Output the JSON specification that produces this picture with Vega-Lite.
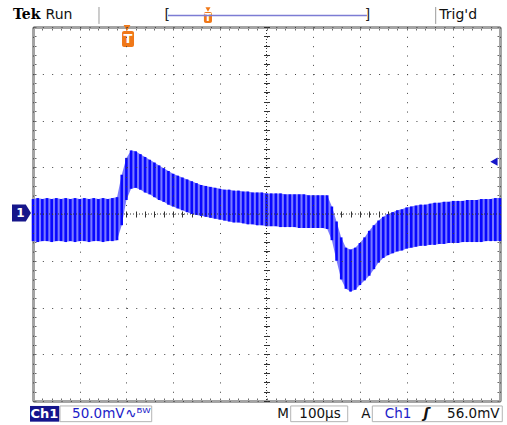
{
  "$schema": "https://vega.github.io/schema/vega-lite/v6.json",
  "width": 467,
  "height": 374,
  "padding": {"left": 33, "top": 27, "right": 7, "bottom": 24},
  "autosize": {"type": "none"},
  "background": "white",
  "config": {
    "view": {"stroke": null},
    "axis": {"labels": false, "title": null, "domain": false, "ticks": false, "grid": false, "offset": 0}
  },
  "datasets": {
    "wave": [
      {"t":0,"hi":16,"lo":-29},{"t":10,"hi":17,"lo":-30},{"t":20,"hi":16,"lo":-29},{"t":30,"hi":17,"lo":-29},
      {"t":40,"hi":16,"lo":-30},{"t":50,"hi":17,"lo":-29},{"t":60,"hi":16,"lo":-29},{"t":70,"hi":17,"lo":-30},
      {"t":80,"hi":16,"lo":-29},{"t":90,"hi":17,"lo":-30},{"t":100,"hi":16,"lo":-29},{"t":110,"hi":17,"lo":-29},
      {"t":120,"hi":16,"lo":-30},{"t":130,"hi":17,"lo":-29},{"t":140,"hi":16,"lo":-29},{"t":150,"hi":17,"lo":-30},
      {"t":160,"hi":16,"lo":-29},{"t":170,"hi":17,"lo":-29},{"t":180,"hi":18,"lo":-28},{"t":190,"hi":42,"lo":-12},
      {"t":200,"hi":60,"lo":15},{"t":210,"hi":68,"lo":27},{"t":220,"hi":67,"lo":28},{"t":230,"hi":64,"lo":26},
      {"t":240,"hi":61,"lo":23},{"t":250,"hi":58,"lo":21},{"t":260,"hi":55,"lo":18},{"t":270,"hi":52,"lo":15},
      {"t":280,"hi":49,"lo":13},{"t":290,"hi":46,"lo":10},{"t":300,"hi":43,"lo":8},{"t":310,"hi":41,"lo":6},
      {"t":320,"hi":39,"lo":4},{"t":330,"hi":37,"lo":2},{"t":340,"hi":35,"lo":0},{"t":350,"hi":33,"lo":-1},
      {"t":360,"hi":31,"lo":-2},{"t":370,"hi":30,"lo":-3},{"t":380,"hi":29,"lo":-4},{"t":390,"hi":28,"lo":-5},
      {"t":400,"hi":27,"lo":-6},{"t":410,"hi":26,"lo":-7},{"t":420,"hi":26,"lo":-8},{"t":430,"hi":25,"lo":-9},
      {"t":440,"hi":25,"lo":-9},{"t":450,"hi":24,"lo":-10},{"t":460,"hi":24,"lo":-11},{"t":470,"hi":23,"lo":-11},
      {"t":480,"hi":23,"lo":-12},{"t":490,"hi":23,"lo":-12},{"t":500,"hi":22,"lo":-13},{"t":510,"hi":22,"lo":-13},
      {"t":520,"hi":22,"lo":-13},{"t":530,"hi":22,"lo":-14},{"t":540,"hi":21,"lo":-14},{"t":550,"hi":21,"lo":-14},
      {"t":560,"hi":21,"lo":-14},{"t":570,"hi":21,"lo":-15},{"t":580,"hi":21,"lo":-15},{"t":590,"hi":20,"lo":-15},
      {"t":600,"hi":20,"lo":-15},{"t":610,"hi":20,"lo":-15},{"t":620,"hi":20,"lo":-15},{"t":630,"hi":20,"lo":-16},
      {"t":640,"hi":8,"lo":-28},{"t":650,"hi":-8,"lo":-50},{"t":660,"hi":-25,"lo":-70},{"t":670,"hi":-36,"lo":-80},
      {"t":680,"hi":-38,"lo":-83},{"t":690,"hi":-36,"lo":-81},{"t":700,"hi":-31,"lo":-76},{"t":710,"hi":-25,"lo":-71},
      {"t":720,"hi":-18,"lo":-66},{"t":730,"hi":-12,"lo":-59},{"t":740,"hi":-7,"lo":-52},{"t":750,"hi":-3,"lo":-47},
      {"t":760,"hi":0,"lo":-44},{"t":770,"hi":2,"lo":-42},{"t":780,"hi":4,"lo":-40},{"t":790,"hi":5,"lo":-39},
      {"t":800,"hi":7,"lo":-37},{"t":810,"hi":8,"lo":-36},{"t":820,"hi":9,"lo":-35},{"t":830,"hi":10,"lo":-34},
      {"t":840,"hi":10,"lo":-34},{"t":850,"hi":11,"lo":-33},{"t":860,"hi":12,"lo":-33},{"t":870,"hi":12,"lo":-32},
      {"t":880,"hi":13,"lo":-32},{"t":890,"hi":13,"lo":-31},{"t":900,"hi":14,"lo":-31},{"t":910,"hi":14,"lo":-31},
      {"t":920,"hi":14,"lo":-30},{"t":930,"hi":15,"lo":-30},{"t":940,"hi":15,"lo":-30},{"t":950,"hi":15,"lo":-30},
      {"t":960,"hi":16,"lo":-30},{"t":970,"hi":16,"lo":-29},{"t":980,"hi":16,"lo":-29},{"t":990,"hi":17,"lo":-29},
      {"t":1000,"hi":17,"lo":-29}
    ]
  },
  "resolve": {"axis": {"x": "independent", "y": "independent"}},
  "layer": [
    {
      "data": {"name": "wave"},
      "mark": {"type": "area", "color": "#7a7aff", "opacity": 1},
      "encoding": {
        "x": {"field": "t", "type": "quantitative", "scale": {"domain": [0, 1000], "nice": false, "zero": false},
              "axis": {"grid": true, "gridColor": "#404040", "gridDash": [1, 8.34], "gridWidth": 1, "tickCount": 10, "zindex": 1}},
        "y": {"field": "lo", "type": "quantitative", "scale": {"domain": [-200, 200], "nice": false, "zero": false},
              "axis": {"grid": true, "gridColor": "#404040", "gridDash": [1, 8.34], "gridWidth": 1, "tickCount": 8, "zindex": 1}},
        "y2": {"field": "hi"}
      }
    },
    {
      "data": {"name": "wave"},
      "mark": {"type": "rule", "color": "#0808ff", "strokeWidth": 2.6},
      "encoding": {
        "x": {"field": "t", "type": "quantitative", "scale": {"domain": [0, 1000], "nice": false, "zero": false},
              "axis": {"orient": "bottom", "domain": true, "domainColor": "#a4a4a4", "domainWidth": 3, "ticks": true, "tickColor": "#6a6a6a", "tickSize": -3, "tickWidth": 1, "tickCount": 50}},
        "y": {"field": "lo", "type": "quantitative", "scale": {"domain": [-200, 200], "nice": false, "zero": false},
              "axis": {"orient": "left", "domain": true, "domainColor": "#a4a4a4", "domainWidth": 3, "ticks": true, "tickColor": "#6a6a6a", "tickSize": -3, "tickWidth": 1, "tickCount": 40}},
        "y2": {"field": "hi"}
      }
    },
    {
      "data": {"values": [{"v": 0}]},
      "mark": {"type": "rule", "color": "#303030", "strokeWidth": 1, "strokeDash": [1, 2]},
      "encoding": {
        "y": {"field": "v", "type": "quantitative", "scale": {"domain": [-200, 200], "nice": false, "zero": false}, "axis": null}
      }
    },
    {
      "data": {"values": [{"t": 500}]},
      "mark": {"type": "rule", "color": "#303030", "strokeWidth": 1, "strokeDash": [1, 2]},
      "encoding": {
        "x": {"field": "t", "type": "quantitative", "scale": {"domain": [0, 1000], "nice": false, "zero": false}, "axis": null}
      }
    },
    {
      "data": {"values": [{"t": -24.6, "v": 1}]},
      "mark": {"type": "point", "shape": "M-1,-0.9L0.45,-0.9L1,0L0.45,0.9L-1,0.9Z", "filled": true, "size": 361, "color": "#16168a", "opacity": 1},
      "encoding": {
        "x": {"field": "t", "type": "quantitative", "scale": {"domain": [0, 1000], "nice": false, "zero": false}, "axis": null},
        "y": {"field": "v", "type": "quantitative", "scale": {"domain": [-200, 200], "nice": false, "zero": false}, "axis": null}
      }
    },
    {
      "data": {"values": [{"t": -27, "v": 1, "label": "1"}]},
      "mark": {"type": "text", "color": "white", "font": "DejaVu Sans", "fontSize": 12, "fontWeight": "bold", "align": "center", "baseline": "middle"},
      "encoding": {
        "x": {"field": "t", "type": "quantitative", "scale": {"domain": [0, 1000], "nice": false, "zero": false}, "axis": null},
        "y": {"field": "v", "type": "quantitative", "scale": {"domain": [-200, 200], "nice": false, "zero": false}, "axis": null},
        "text": {"field": "label"}
      }
    },
    {
      "data": {"values": [{"t": 987, "v": 56}]},
      "mark": {"type": "point", "shape": "triangle-left", "filled": true, "size": 70, "color": "#1414c8", "opacity": 1},
      "encoding": {
        "x": {"field": "t", "type": "quantitative", "scale": {"domain": [0, 1000], "nice": false, "zero": false}, "axis": null},
        "y": {"field": "v", "type": "quantitative", "scale": {"domain": [-200, 200], "nice": false, "zero": false}, "axis": null}
      }
    },
    {
      "data": {"values": [{"t": 201.3, "v": 198.9}]},
      "mark": {"type": "point", "shape": "triangle-down", "filled": true, "size": 45, "color": "#f07818", "opacity": 1},
      "encoding": {
        "x": {"field": "t", "type": "quantitative", "scale": {"domain": [0, 1000], "nice": false, "zero": false}, "axis": null},
        "y": {"field": "v", "type": "quantitative", "scale": {"domain": [-200, 200], "nice": false, "zero": false}, "axis": null}
      }
    },
    {
      "data": {"values": [{"t": 374.7, "v": 218.7}]},
      "mark": {"type": "point", "shape": "triangle-down", "filled": true, "size": 25, "color": "#f07818", "opacity": 1},
      "encoding": {
        "x": {"field": "t", "type": "quantitative", "scale": {"domain": [0, 1000], "nice": false, "zero": false}, "axis": null},
        "y": {"field": "v", "type": "quantitative", "scale": {"domain": [-200, 200], "nice": false, "zero": false}, "axis": null}
      }
    },
    {
      "data": {"values": [{"t": 190.6, "t2": 216.3, "v": 178.6, "v2": 195.7}, {"t": 366, "t2": 383.3, "v": 204.3, "v2": 216}]},
      "mark": {"type": "rect", "color": "#f07818", "cornerRadius": 2},
      "encoding": {
        "x": {"field": "t", "type": "quantitative", "scale": {"domain": [0, 1000], "nice": false, "zero": false}, "axis": null},
        "x2": {"field": "t2"},
        "y": {"field": "v", "type": "quantitative", "scale": {"domain": [-200, 200], "nice": false, "zero": false}, "axis": null},
        "y2": {"field": "v2"}
      }
    },
    {
      "data": {"values": [{"t": 203.4, "v": 187.2, "label": "T"}]},
      "mark": {"type": "text", "color": "white", "font": "DejaVu Sans", "fontSize": 13, "fontWeight": "bold", "align": "center", "baseline": "middle"},
      "encoding": {
        "x": {"field": "t", "type": "quantitative", "scale": {"domain": [0, 1000], "nice": false, "zero": false}, "axis": null},
        "y": {"field": "v", "type": "quantitative", "scale": {"domain": [-200, 200], "nice": false, "zero": false}, "axis": null},
        "text": {"field": "label"}
      }
    },
    {
      "data": {"values": [{"t": 374.7, "v": 210, "label": "T"}]},
      "mark": {"type": "text", "color": "white", "font": "DejaVu Sans", "fontSize": 10, "fontWeight": "bold", "align": "center", "baseline": "middle"},
      "encoding": {
        "x": {"field": "t", "type": "quantitative", "scale": {"domain": [0, 1000], "nice": false, "zero": false}, "axis": null},
        "y": {"field": "v", "type": "quantitative", "scale": {"domain": [-200, 200], "nice": false, "zero": false}, "axis": null},
        "text": {"field": "label"}
      }
    },
    {
      "data": {"values": [{"t": 27, "v": 212.9, "label": "Run"}, {"t": 870, "v": 212.9, "label": "Trig'd"}]},
      "mark": {"type": "text", "color": "#111111", "font": "DejaVu Sans", "fontSize": 14, "align": "left", "baseline": "middle"},
      "encoding": {
        "x": {"field": "t", "type": "quantitative", "scale": {"domain": [0, 1000], "nice": false, "zero": false}, "axis": null},
        "y": {"field": "v", "type": "quantitative", "scale": {"domain": [-200, 200], "nice": false, "zero": false}, "axis": null},
        "text": {"field": "label"}
      }
    },
    {
      "data": {"values": [{"t": -42.8, "v": 212.9, "label": "Tek"}]},
      "mark": {"type": "text", "color": "#000000", "font": "DejaVu Serif", "fontSize": 14, "fontWeight": "bold", "align": "left", "baseline": "middle"},
      "encoding": {
        "x": {"field": "t", "type": "quantitative", "scale": {"domain": [0, 1000], "nice": false, "zero": false}, "axis": null},
        "y": {"field": "v", "type": "quantitative", "scale": {"domain": [-200, 200], "nice": false, "zero": false}, "axis": null},
        "text": {"field": "label"}
      }
    },
    {
      "data": {"values": [{"t": 141.3, "v": 221.4, "v2": 203.3}, {"t": 862.3, "v": 221.4, "v2": 203.3}]},
      "mark": {"type": "rule", "color": "#9a9a9a", "strokeWidth": 1},
      "encoding": {
        "x": {"field": "t", "type": "quantitative", "scale": {"domain": [0, 1000], "nice": false, "zero": false}, "axis": null},
        "y": {"field": "v", "type": "quantitative", "scale": {"domain": [-200, 200], "nice": false, "zero": false}, "axis": null},
        "y2": {"field": "v2"}
      }
    },
    {
      "data": {"values": [{"t": 289, "t2": 715, "v": 212.3}]},
      "mark": {"type": "rule", "color": "#7c7cd4", "strokeWidth": 1.5},
      "encoding": {
        "x": {"field": "t", "type": "quantitative", "scale": {"domain": [0, 1000], "nice": false, "zero": false}, "axis": null},
        "x2": {"field": "t2"},
        "y": {"field": "v", "type": "quantitative", "scale": {"domain": [-200, 200], "nice": false, "zero": false}, "axis": null}
      }
    },
    {
      "data": {"values": [{"t": 287.5, "v": 212.6, "label": "["}, {"t": 716.5, "v": 212.6, "label": "]"}]},
      "mark": {"type": "text", "color": "#222222", "font": "DejaVu Sans", "fontSize": 14, "align": "center", "baseline": "middle"},
      "encoding": {
        "x": {"field": "t", "type": "quantitative", "scale": {"domain": [0, 1000], "nice": false, "zero": false}, "axis": null},
        "y": {"field": "v", "type": "quantitative", "scale": {"domain": [-200, 200], "nice": false, "zero": false}, "axis": null},
        "text": {"field": "label"}
      }
    },
    {
      "data": {"values": [{"t": -6.4, "t2": 56.3, "v": -205.3, "v2": -222.1}]},
      "mark": {"type": "rect", "color": "#14148c"},
      "encoding": {
        "x": {"field": "t", "type": "quantitative", "scale": {"domain": [0, 1000], "nice": false, "zero": false}, "axis": null},
        "x2": {"field": "t2"},
        "y": {"field": "v", "type": "quantitative", "scale": {"domain": [-200, 200], "nice": false, "zero": false}, "axis": null},
        "y2": {"field": "v2"}
      }
    },
    {
      "data": {"values": [
        {"t": 57.8, "t2": 254.2, "v": -205.3, "v2": -222.1},
        {"t": 551.8, "t2": 673.9, "v": -205.3, "v2": -222.1},
        {"t": 726.6, "t2": 1004.9, "v": -205.3, "v2": -222.1}
      ]},
      "mark": {"type": "rect", "fill": "white", "stroke": "#b4b4b4", "strokeWidth": 1},
      "encoding": {
        "x": {"field": "t", "type": "quantitative", "scale": {"domain": [0, 1000], "nice": false, "zero": false},
              "axis": {"orient": "top", "domain": true, "domainColor": "#a4a4a4", "domainWidth": 3, "ticks": true, "tickColor": "#6a6a6a", "tickSize": -3, "tickWidth": 1, "tickCount": 50}},
        "x2": {"field": "t2"},
        "y": {"field": "v", "type": "quantitative", "scale": {"domain": [-200, 200], "nice": false, "zero": false},
              "axis": {"orient": "right", "domain": true, "domainColor": "#a4a4a4", "domainWidth": 3, "ticks": true, "tickColor": "#6a6a6a", "tickSize": -3, "tickWidth": 1, "tickCount": 40}},
        "y2": {"field": "v2"}
      }
    },
    {
      "data": {"values": [{"t": 24.6, "v": -213.9, "label": "Ch1"}]},
      "mark": {"type": "text", "color": "white", "font": "DejaVu Sans", "fontSize": 13, "fontWeight": "bold", "align": "center", "baseline": "middle"},
      "encoding": {
        "x": {"field": "t", "type": "quantitative", "scale": {"domain": [0, 1000], "nice": false, "zero": false}, "axis": null},
        "y": {"field": "v", "type": "quantitative", "scale": {"domain": [-200, 200], "nice": false, "zero": false}, "axis": null},
        "text": {"field": "label"}
      }
    },
    {
      "data": {"values": [
        {"t": 139.8, "v": -213.9, "label": "50.0mV"},
        {"t": 224.8, "v": -213.9, "label": "∿ᴮᵂ"},
        {"t": 781.6, "v": -213.9, "label": "Ch1"}
      ]},
      "mark": {"type": "text", "color": "#1c1cc8", "font": "DejaVu Sans", "fontSize": 13.5, "align": "center", "baseline": "middle"},
      "encoding": {
        "x": {"field": "t", "type": "quantitative", "scale": {"domain": [0, 1000], "nice": false, "zero": false}, "axis": null},
        "y": {"field": "v", "type": "quantitative", "scale": {"domain": [-200, 200], "nice": false, "zero": false}, "axis": null},
        "text": {"field": "label"}
      }
    },
    {
      "data": {"values": [
        {"t": 535.3, "v": -213.9, "label": "M"},
        {"t": 614.6, "v": -213.9, "label": "100µs"},
        {"t": 713, "v": -213.9, "label": "A"},
        {"t": 942.9, "v": -213.9, "label": "56.0mV"}
      ]},
      "mark": {"type": "text", "color": "#111111", "font": "DejaVu Sans", "fontSize": 13.5, "align": "center", "baseline": "middle"},
      "encoding": {
        "x": {"field": "t", "type": "quantitative", "scale": {"domain": [0, 1000], "nice": false, "zero": false},
              "axis": {"orient": "bottom", "offset": -190, "ticks": true, "tickSize": 6, "tickColor": "#303030", "tickWidth": 1, "tickCount": 50}},
        "y": {"field": "v", "type": "quantitative", "scale": {"domain": [-200, 200], "nice": false, "zero": false},
              "axis": {"orient": "left", "offset": -236.5, "ticks": true, "tickSize": 6, "tickColor": "#303030", "tickWidth": 1, "tickCount": 40}},
        "text": {"field": "label"}
      }
    },
    {
      "data": {"values": [{"t": 842.2, "v": -213.9, "label": "ʃ"}]},
      "mark": {"type": "text", "color": "#111111", "font": "DejaVu Sans", "fontSize": 14, "fontWeight": "bold", "fontStyle": "italic", "align": "center", "baseline": "middle"},
      "encoding": {
        "x": {"field": "t", "type": "quantitative", "scale": {"domain": [0, 1000], "nice": false, "zero": false}, "axis": null},
        "y": {"field": "v", "type": "quantitative", "scale": {"domain": [-200, 200], "nice": false, "zero": false}, "axis": null},
        "text": {"field": "label"}
      }
    }
  ]
}
